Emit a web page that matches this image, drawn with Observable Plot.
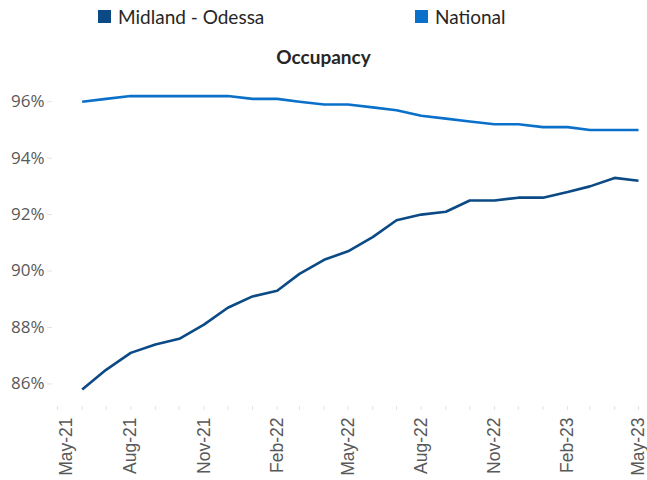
<!DOCTYPE html>
<html>
<head>
<meta charset="utf-8">
<script src="https://cdn.jsdelivr.net/npm/d3@7"></script>
<script src="https://cdn.jsdelivr.net/npm/@observablehq/plot@0.6"></script>
<style>
  html, body { margin: 0; padding: 0; background: #fff; }
  #wrap { position: relative; width: 647px; height: 480px; overflow: hidden; }
  #legend { position: absolute; top: 5px; left: 0; width: 647px; height: 24px; font-family: Lato, "Open Sans", sans-serif; font-size: 19px; color: #262626; }
  .item { position: absolute; top: 0; display: flex; align-items: center; }
  .sw { width: 13px; height: 13px; margin-right: 7px; }
  #title { position: absolute; top: 45px; left: 0; width: 647px; text-align: center; font-family: Lato, "Open Sans", sans-serif; font-weight: bold; font-size: 19px; color: #262626; }
  #chart { position: absolute; top: 0; left: 0; }
</style>
</head>
<body>
<div id="wrap">
  <div id="chart"></div>
  <div id="legend"></div>
  <div id="title">Occupancy</div>
</div>
<script>
// Data (monthly, Jun-21 .. May-23)
const months = ["2021-06","2021-07","2021-08","2021-09","2021-10","2021-11","2021-12",
  "2022-01","2022-02","2022-03","2022-04","2022-05","2022-06","2022-07","2022-08","2022-09",
  "2022-10","2022-11","2022-12","2023-01","2023-02","2023-03","2023-04","2023-05"];
const midlandOdessa = [85.8, 86.5, 87.1, 87.4, 87.6, 88.1, 88.7, 89.1, 89.3, 89.9, 90.4, 90.7,
  91.2, 91.8, 92.0, 92.1, 92.5, 92.5, 92.6, 92.6, 92.8, 93.0, 93.3, 93.2];
const national = [96.0, 96.1, 96.2, 96.2, 96.2, 96.2, 96.2, 96.1, 96.1, 96.0, 95.9, 95.9,
  95.8, 95.7, 95.5, 95.4, 95.3, 95.2, 95.2, 95.1, 95.1, 95.0, 95.0, 95.0];
const seriesNames = ["Midland - Odessa", "National"];
const seriesColors = ["#0B4A85", "#0A70C9"];
const yTicks = [86, 88, 90, 92, 94, 96];
const xStart = "2021-05", xEnd = "2023-05";

const parse = d3.utcParse("%Y-%m");
const rows = [];
months.forEach((m, i) => {
  rows.push({date: parse(m), value: midlandOdessa[i], series: seriesNames[0]});
  rows.push({date: parse(m), value: national[i], series: seriesNames[1]});
});
const domainX = [parse(xStart), parse(xEnd)];
const endPlus = d3.utcMonth.offset(domainX[1], 1);
const labelTicks = d3.utcMonth.range(domainX[0], endPlus, 3);
const minorTicks = d3.utcMonth.range(domainX[0], endPlus);
const fmt = d3.utcFormat("%b-%y");

const plot = Plot.plot({
  width: 647,
  height: 480,
  marginTop: 73,
  marginBottom: 74,
  marginLeft: 57,
  marginRight: 9,
  style: {fontFamily: "'Liberation Sans', Arial, sans-serif", fontSize: "18px", color: "#595959", background: "transparent"},
  x: {type: "utc", domain: domainX, label: null},
  y: {domain: [85.2, 97], label: null},
  color: {domain: seriesNames, range: seriesColors},
  marks: [
    Plot.axisY({ticks: yTicks, tickSize: 5, tickFormat: () => "", stroke: "#e3e3e3", dx: -5, label: null}),
    Plot.axisY({ticks: yTicks, tickSize: 0, tickPadding: 13, tickFormat: d => d + "%", fill: "#595959",
      fontFamily: "'Open Sans', sans-serif", fontSize: 17, label: null}),
    Plot.axisX({ticks: minorTicks, tickSize: 4, tickFormat: () => "", stroke: "#e3e3e3", label: null}),
    Plot.axisX({ticks: labelTicks.slice(0, 1), tickSize: 0, tickPadding: 11, tickRotate: -90, dx: 9,
      tickFormat: fmt, fill: "#595959", fontSize: 17.5, label: null}),
    Plot.axisX({ticks: labelTicks.slice(1), tickSize: 0, tickPadding: 11, tickRotate: -90,
      tickFormat: fmt, fill: "#595959", fontSize: 17.5, label: null}),
    Plot.line(rows, {x: "date", y: "value", z: "series", stroke: "series", strokeWidth: 2.6,
      strokeLinejoin: "round", strokeLinecap: "butt"})
  ]
});
document.getElementById("chart").appendChild(plot);

// Legend
const legend = document.getElementById("legend");
const positions = [98, 415];
seriesNames.forEach((n, i) => {
  const it = document.createElement("div");
  it.className = "item";
  it.style.left = positions[i] + "px";
  it.innerHTML = `<span class="sw" style="background:${seriesColors[i]}"></span><span>${n}</span>`;
  legend.appendChild(it);
});
</script>
</body>
</html>
